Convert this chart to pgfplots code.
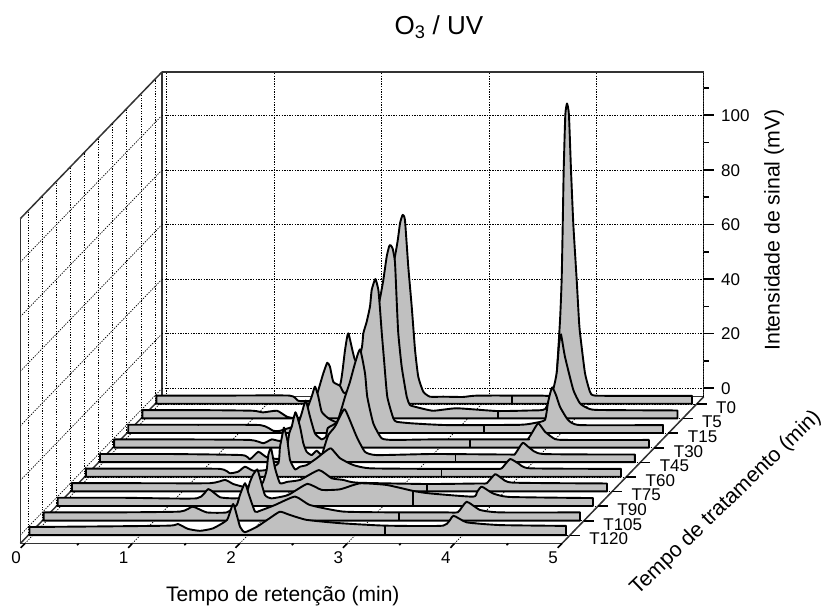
\documentclass[border=0pt]{standalone}
\usepackage{fontspec}
\setmainfont{Liberation Sans}
\usepackage{pgfplots}
\usepackage{pgfplotstable}
\pgfplotsset{compat=1.18}
\pgfplotstableread{
x z
-0.03 0
0.60 0
1.21 0
1.29 -1.9
1.40 -2.0
1.54 -0.9
1.68 3.9
1.726 16.7
1.757 22.8
1.82 13
1.91 14.9
2.05 22
2.207 54.5
2.238 63.1
2.263 66.2
2.284 64.3
2.315 47.2
2.347 32.6
2.378 16.7
2.408 6.9
2.455 1.4
2.517 -0.4
2.641 -0.4
2.825 -0.5
2.96 0
3.54 0
3.654 0
3.69 3.9
3.728 27.7
3.743 42.4
3.753 62.5
3.762 82.6
3.777 102.8
3.793 107
3.811 102.8
3.83 82.6
3.852 62.5
3.883 42.4
3.904 27.7
3.914 22.9
3.96 8.3
4.007 1.4
4.054 0
4.47 -0.1
4.957 -0.1
}\Tzero
\pgfplotstableread{
x z
-0.03 0
0.60 0
1.0 -0.2
1.094 -0.8
1.224 -0.2
1.317 -2.4
1.392 -2.9
1.485 -2.1
1.578 3.7
1.609 7.4
1.655 13.5
1.692 17.4
1.717 15.9
1.748 10.4
1.811 8.9
1.857 6.2
1.997 12.9
2.136 33
2.183 41
2.214 47.7
2.245 56.2
2.267 59.9
2.279 60.5
2.30 59.3
2.322 54.4
2.338 40.4
2.353 28.2
2.385 15.9
2.432 4.9
2.462 1.9
2.525 1.1
2.677 -0.2
2.897 0.7
3.27 -0.3
3.58 -0.1
3.72 0.4
3.794 7.4
3.828 13.6
3.85 23.9
3.868 27.8
3.905 19.6
3.983 7.4
4.045 2.5
4.108 0.9
4.2 0.1
4.953 -0.1
}\Tfive
\pgfplotstableread{
x z
-0.03 0
0.60 0
1.197 -0.1
1.321 -2.2
1.383 -2.2
1.569 0.3
1.614 3.6
1.678 10.3
1.709 14
1.74 10.3
1.771 4.8
1.833 2.4
1.911 1.1
1.988 5.4
2.053 14.6
2.144 28
2.159 33.5
2.19 37.7
2.221 43.3
2.237 49.4
2.271 53.4
2.299 49.4
2.315 42
2.331 33.5
2.352 23.7
2.382 10.3
2.438 2.4
2.47 1.1
2.624 0.5
2.935 -0.1
3.618 0
3.757 0.7
3.85 1.8
3.878 8
3.897 11.3
3.918 13.7
3.953 10.9
3.99 6.6
4.065 1.8
4.176 -0.1
4.949 -0.1
}\Tfifteen
\pgfplotstableread{
x z
-0.03 0
0.60 0
1.235 -0.2
1.359 -1.4
1.437 0
1.499 -0.5
1.607 -0.6
1.685 5.9
1.717 9.6
1.754 14.2
1.794 8.3
1.84 2.2
1.903 0
1.943 1
1.96 4.2
2.048 6.5
2.12 15.6
2.166 21.1
2.213 27.9
2.26 33
2.306 24.2
2.327 15.6
2.383 5.9
2.461 0.4
2.57 -0.2
2.942 0
3.795 0
3.823 0.1
3.858 2.2
3.919 5.9
3.982 2.8
4.075 0.1
4.184 -0.2
4.95 -0.2
}\Tthirty
\pgfplotstableread{
x z
-0.03 0
0.60 0
1.289 -0.4
1.366 -1.9
1.444 0.8
1.522 -1.2
1.627 -1.8
1.70 0
1.732 7.6
1.755 10
1.79 15.3
1.832 10
1.863 3.9
1.894 0.8
1.941 -0.4
1.987 1.2
2.034 -0.4
2.055 2.1
2.096 7
2.157 10
2.242 16.4
2.282 13.7
2.36 6.3
2.437 0.8
2.546 -0.4
3.07 0
3.787 -0.2
3.834 0
3.906 4.1
3.974 2.1
4.095 0
4.95 -0.2
}\Tfortyfive
\pgfplotstableread{
x z
-0.03 0
0.60 0
1.218 -0.1
1.311 -1.7
1.389 -1.1
1.451 0.7
1.528 -0.8
1.65 -0.5
1.761 1.9
1.777 8
1.808 14.1
1.815 15
1.845 10.5
1.87 3.2
1.917 -0.3
1.963 0.7
2.026 1.3
2.119 3.8
2.196 6.2
2.252 7.4
2.336 3.8
2.46 1.3
2.615 0.1
3.2 -0.1
3.78 -0.1
3.841 0.1
3.919 3.5
3.996 1.9
4.105 0.1
4.952 -0.1
}\Tsixty
\pgfplotstableread{
x z
-0.03 0
0.60 0
1.257 0
1.396 1.2
1.473 -0.3
1.567 -1.3
1.629 -1
1.741 -0.3
1.784 4.8
1.799 10.3
1.825 12.8
1.862 5.5
1.908 0
1.976 0.5
2.095 1.2
2.271 4.8
2.39 1.8
2.497 1.2
2.622 0.2
3.274 -0.3
3.77 -0.1
3.833 0
3.911 3.3
3.973 1.8
4.078 0.2
4.953 -0.1
}\Tseventyfive
\pgfplotstableread{
x z
-0.03 0
0.60 0
1.264 -0.2
1.372 3.2
1.481 0.2
1.602 -0.2
1.714 0.3
1.76 5.8
1.788 8.4
1.828 10.4
1.853 7.3
1.9 1
1.962 -0.2
2.114 1
2.294 5.1
2.428 2.9
2.598 3.1
2.784 5.3
3.033 4.7
3.281 2.5
3.436 1.6
3.837 0.4
3.874 2.1
3.918 4.1
4.023 1.6
4.181 0.3
4.954 -0.1
}\Tninety
\pgfplotstableread{
x z
-0.03 0
0.60 0
1.24 0.3
1.358 2.1
1.488 0
1.675 0
1.768 2.7
1.798 6.4
1.845 10.7
1.882 6.4
1.938 0.3
1.985 0.6
2.124 2.7
2.311 5.8
2.45 2.7
2.76 0.3
3.288 0
3.716 0
3.828 0.1
3.909 3.9
4.033 0.9
4.219 0
4.964 0
}\Tonefive
\pgfplotstableread{
x z
-0.03 0
0.60 0.2
1.278 0.5
1.352 1.1
1.446 -0.7
1.557 -1.4
1.678 -0.5
1.809 2.6
1.867 8.4
1.93 0.1
1.976 -1.9
2.088 0.1
2.209 3.3
2.302 5.6
2.395 4.4
2.551 2.6
2.861 1.4
3.28 0.5
3.822 0.5
3.916 4.1
4.041 1.7
4.351 0.7
4.965 0.4
}\Tonetwenty
\definecolor{ribbon}{HTML}{C0C0C0}
\pgfplotsset{
  ribbon/.style={fill=ribbon,draw=black,line width=1.9pt,line join=round,smooth,tension=0.3},
  seam/.style={draw=black,line width=1.8pt,sharp plot},
  tickmark/.style={draw=black,line width=1.6pt,sharp plot}
}
\newcommand{\ribbon}[3]{%
  \addplot3[ribbon] table[x=x,y expr=#1,z=z] {#2}
    -- (axis cs:#3,#1,-3) -- (axis cs:-0.03,#1,-3) -- cycle;
}
\newcommand{\ztickmark}[2]{%
  \addplot3[tickmark] coordinates {(5,-0.5,#1) (#2,-0.5,#1)};
}
\newcommand{\xtickmark}[2]{%
  \addplot3[tickmark] coordinates {(#1,9.55,-3.08) (#1,#2,-3.08)};
}
\newcommand{\ytickmark}[1]{%
  \addplot3[tickmark] coordinates {(5,#1,-3.08) (5.093,#1,-3.08)};
}
\begin{document}
\begin{tikzpicture}
\path[use as bounding box] (0pt,0pt) rectangle (824pt,607pt);
\begin{axis}[
  at={(159.65pt,211.4pt)},anchor=origin,
  x={(107.4pt,0pt)},y={(-14.1pt,-14.6pt)},z={(0pt,2.73pt)},
  xmin=-0.043,xmax=5,ymin=-0.5,ymax=9.55,zmin=-3.08,zmax=115.9,
  clip=false,
  axis lines=box,
  axis line style={line width=1.5pt,color=black!80},
  tick style={draw=none},
  major tick length=10pt,
  tick align=outside,
  xtick={0,1,2,3,4,5},
  ytick={0,...,9},
  yticklabels={T0,T5,T15,T30,T45,T60,T75,T90,T105,T120},
  ztick={0,20,40,60,80,100},
  xtick pos=right,ytick pos=right,ztick pos=left,
  xticklabel pos=left,yticklabel pos=left,zticklabel pos=right,
  grid=major,
  grid style={line width=0.7pt,black,dash pattern=on 1.3pt off 1.3pt},
  tick label style={font=\fontsize{17}{19}\selectfont},
  yticklabel style={anchor=west,xshift=6pt,yshift=-3.5pt},
  zticklabel style={anchor=west,xshift=7pt,yshift=-7.5pt},
  xticklabel style={xshift=2pt,yshift=2.5pt},
  /pgf/number format/assume math mode=true,
  xlabel={Tempo de retenção (min)},
  ylabel={Tempo de tratamento (min)},
  zlabel={Intensidade de sinal (mV)},
  title={O\textsubscript{3} / UV},
  title style={at={(axis cs:2.535,-0.5,130)},anchor=center,font=\fontsize{26}{29}\selectfont},
  x label style={at={(axis cs:2.40,9.55,-22.4)},anchor=center,font=\fontsize{21}{24}\selectfont},
  y label style={at={(axis cs:5.864,4.5,-15.3)},anchor=center,rotate=-46,font=\fontsize{21.3}{24}\selectfont},
  z label style={at={(axis cs:5.655,-0.5,58)},anchor=center,font=\fontsize{21.3}{24}\selectfont},
]
\ztickmark{0}{5.093}\ztickmark{10}{5.047}\ztickmark{20}{5.093}\ztickmark{30}{5.047}
\ztickmark{40}{5.093}\ztickmark{50}{5.047}\ztickmark{60}{5.093}\ztickmark{70}{5.047}
\ztickmark{80}{5.093}\ztickmark{90}{5.047}\ztickmark{100}{5.093}\ztickmark{110}{5.047}
\xtickmark{0}{9.85}\xtickmark{0.5}{9.67}\xtickmark{1}{9.85}\xtickmark{1.5}{9.67}
\xtickmark{2}{9.85}\xtickmark{2.5}{9.67}\xtickmark{3}{9.85}\xtickmark{3.5}{9.67}
\xtickmark{4}{9.85}\xtickmark{4.5}{9.67}\xtickmark{5}{9.85}
\ytickmark{0}\ytickmark{1}\ytickmark{2}\ytickmark{3}\ytickmark{4}
\ytickmark{5}\ytickmark{6}\ytickmark{7}\ytickmark{8}\ytickmark{9}
\ribbon{0}{\Tzero}{4.957}
\addplot3[seam] coordinates {(3.28,0,0) (3.28,0,-3)};
\ribbon{1}{\Tfive}{4.953}
\addplot3[seam] coordinates {(3.28,1,-0.1) (3.28,1,-3)};
\ribbon{2}{\Tfifteen}{4.949}
\addplot3[seam] coordinates {(3.28,2,0) (3.28,2,-3)};
\ribbon{3}{\Tthirty}{4.95}
\addplot3[seam] coordinates {(3.28,3,0) (3.28,3,-3)};
\ribbon{4}{\Tfortyfive}{4.95}
\addplot3[seam] coordinates {(3.28,4,0) (3.28,4,-3)};
\ribbon{5}{\Tsixty}{4.952}
\addplot3[seam] coordinates {(3.28,5,-0.1) (3.28,5,-3)};
\ribbon{6}{\Tseventyfive}{4.953}
\addplot3[seam] coordinates {(3.28,6,-0.3) (3.28,6,-3)};
\ribbon{7}{\Tninety}{4.954}
\addplot3[seam] coordinates {(3.28,7,2.5) (3.28,7,-3)};
\ribbon{8}{\Tonefive}{4.964}
\addplot3[seam] coordinates {(3.28,8,0) (3.28,8,-3)};
\ribbon{9}{\Tonetwenty}{4.965}
\addplot3[seam] coordinates {(3.28,9,0.5) (3.28,9,-3)};
\end{axis}
\end{tikzpicture}
\end{document}
